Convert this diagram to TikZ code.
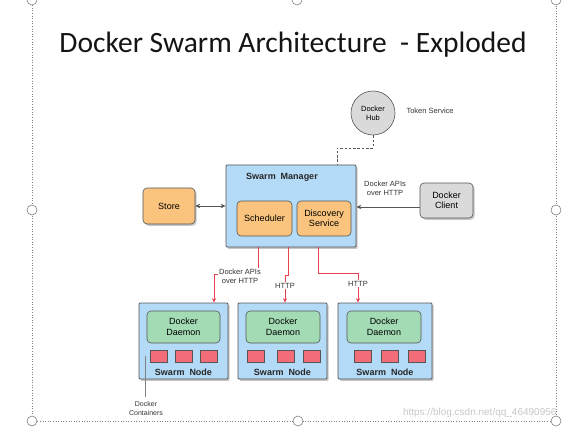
\documentclass[tikz,border=0pt]{standalone}
\usepackage{fontspec}
\setmainfont{Liberation Sans}
\newfontfamily\titlefont{Carlito}
\usetikzlibrary{shadows,arrows.meta}
\definecolor{boxblue}{HTML}{B3DAF7}
\definecolor{boxorange}{HTML}{FAC47E}
\definecolor{boxgreen}{HTML}{A3DBB5}
\definecolor{boxred}{HTML}{F26D77}
\definecolor{boxgray}{HTML}{DADADA}
\definecolor{edgegray}{HTML}{555555}
\definecolor{redline}{HTML}{E8424F}
\tikzset{
  shad/.style={drop shadow={shadow xshift=1.6pt,shadow yshift=-1.8pt,opacity=0.45}},
  container/.style={draw=edgegray,line width=0.8pt,fill=boxblue,shad,rounded corners=1pt},
  inner/.style={draw=edgegray,line width=0.6pt,rounded corners=4pt,font=\fontsize{9}{10.5}\selectfont,align=center,inner sep=0pt},
  orangebox/.style={inner,fill=boxorange},
  greenbox/.style={inner,fill=boxgreen,minimum height=32pt},
  redbox/.style={draw=edgegray,line width=0.5pt,fill=boxred,minimum width=17pt,minimum height=12pt,inner sep=0pt},
  graybox/.style={inner,fill=boxgray,shad},
  lbl/.style={font=\fontsize{7.5}{9}\selectfont,align=center,text=black!80},
  boldlbl/.style={font=\bfseries\fontsize{9}{10}\selectfont,text=black!85},
  redarrow/.style={draw=redline,line width=0.7pt,-{Stealth[length=4.5pt,width=4pt]}},
  blackarrow/.style={draw=edgegray,line width=0.8pt},
  handle/.style={circle,draw=gray,fill=white,minimum size=10pt,inner sep=0pt,line width=0.6pt},
}
\begin{document}
\begin{tikzpicture}[x=1pt,y=-1pt]
\useasboundingbox (0,0) rectangle (573,433);
% selection frame
\draw[gray,dotted,line width=0.6pt] (32,0) -- (32,421) -- (556,421) -- (556,0);
% title
\node[font=\titlefont\fontsize{29.5}{34}\selectfont,text=black!92] (title) at (293,45) {Docker Swarm Architecture \ - Exploded};
% hub
\node[circle,draw=edgegray,line width=0.6pt,fill=boxgray,minimum size=44pt,inner sep=0pt,align=center,font=\fontsize{7.5}{9}\selectfont] (hub) at (373,113) {Docker\\Hub};
\node[lbl,anchor=west] (token) at (403,111) {Token Service};
% manager
\node[container,minimum width=130pt,minimum height=82pt] (mgr) at (291,206) {};
\node[boldlbl] (mgrlbl) at (282,177) {Swarm \ Manager};
\node[orangebox,minimum width=55pt,minimum height=35pt] (sched) at (264.5,218.5) {Scheduler};
\node[orangebox,minimum width=54pt,minimum height=35pt] (disc) at (324,218.5) {Discovery\\Service};
% store
\node[orangebox,shad,minimum width=52pt,minimum height=36pt] (store) at (169,206) {Store};
% client
\node[graybox,minimum width=53pt,minimum height=35pt] (client) at (446.5,200.5) {Docker\\Client};
\node[lbl] (apilbl) at (385,188) {Docker APIs\\over HTTP};
% hub link
\coordinate (hb) at (337,148);
\draw[edgegray,dashed,line width=0.7pt,dash pattern=on 2.5pt off 1.8pt] (hub.south) |- (hb) -- (hb |- mgr.north);
% store link
\draw[blackarrow,{Stealth[length=5pt,width=4.5pt]}-{Stealth[length=5pt,width=4.5pt]}] (store.east) -- (store.east -| mgr.west);
% client link
\draw[blackarrow,-{Stealth[length=5pt,width=4.5pt]}] ([yshift=-6.5pt]client.west) -- ([yshift=-6.5pt]client.west -| mgr.east);
% swarm nodes
\node[container,minimum width=89pt,minimum height=76pt] (n1) at (183.5,341) {};
\node[container,minimum width=89pt,minimum height=76pt] (n2) at (282.5,341) {};
\node[container,minimum width=94pt,minimum height=76pt] (n3) at (385,341) {};
\node[greenbox,minimum width=73pt] (d1) at (183.5,327) {Docker\\Daemon};
\node[greenbox,minimum width=74pt] (d2) at (283,327) {Docker\\Daemon};
\node[greenbox,minimum width=74pt] (d3) at (384,327) {Docker\\Daemon};
\node[redbox] (c11) at (158.5,356) {};
\node[redbox] (c12) at (183.5,356) {};
\node[redbox] (c13) at (208.5,356) {};
\node[redbox] (c21) at (255.5,356) {};
\node[redbox] (c22) at (285.5,356) {};
\node[redbox] (c23) at (311.5,356) {};
\node[redbox] (c31) at (362.5,356) {};
\node[redbox] (c32) at (389.5,356) {};
\node[redbox] (c33) at (416.5,356) {};
\node[boldlbl] (s1) at (183.5,372) {Swarm \ Node};
\node[boldlbl] (s2) at (282.5,372) {Swarm \ Node};
\node[boldlbl] (s3) at (385,372) {Swarm \ Node};
% red links
\coordinate (r1) at (258,274);
\coordinate (r1b) at (214,274);
\draw[redarrow] (r1 |- mgr.south) -- (r1) -- (r1b) -- (r1b |- n1.north);
\node[lbl,fill=white,inner sep=1pt] (l1) at (240,276) {Docker APIs\\over HTTP};
\coordinate (r2) at (288,275);
\coordinate (r2b) at (285,275);
\draw[redarrow] (r2 |- mgr.south) -- (r2) -- (r2b) -- (r2b |- n2.north);
\node[lbl,fill=white,inner sep=1pt] (l2) at (285,285.5) {HTTP};
\coordinate (r3) at (318,273);
\coordinate (r3b) at (358,273);
\draw[redarrow] (r3 |- mgr.south) -- (r3) -- (r3b) -- (r3b |- n3.north);
\node[lbl,fill=white,inner sep=1pt] (l3) at (358,283.5) {HTTP};
% containers label
\node[lbl,font=\fontsize{7}{9}\selectfont] (cl) at (146,408) {Docker\\Containers};
\draw[gray,line width=0.5pt] ([xshift=-4.5pt]c11.west) -- ([xshift=-4.5pt]c11.west |- cl.north);
% watermark
\node[text=black!22,font=\fontsize{10}{12}\selectfont,anchor=east] (wm) at (560,413) {https://blog.csdn.net/qq\_46490956};
% handles
\node[handle] (h1) at (32,0) {};
\node[handle] (h2) at (297,0) {};
\node[handle] (h3) at (556,0) {};
\node[handle] (h4) at (32,210) {};
\node[handle] (h5) at (556,210) {};
\node[handle] (h6) at (32,421) {};
\node[handle] (h7) at (298,421) {};
\node[handle] (h8) at (556,421) {};
\end{tikzpicture}
\end{document}
